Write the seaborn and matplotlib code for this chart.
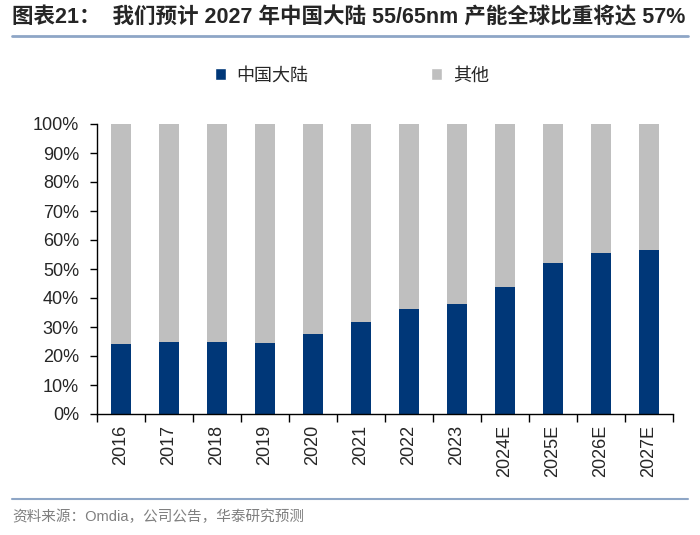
import matplotlib
matplotlib.use("Agg")
import pandas as pd
import seaborn as sns
from matplotlib import pyplot as plt
from matplotlib.patches import Patch
from matplotlib.lines import Line2D
from matplotlib.ticker import FuncFormatter, MultipleLocator, FixedLocator

# data (share of global 55/65nm capacity, %)
years = ['2016', '2017', '2018', '2019', '2020', '2021', '2022', '2023',
         '2024E', '2025E', '2026E', '2027E']
china = [24.0, 24.9, 24.7, 24.5, 27.7, 31.7, 36.3, 37.8, 43.8, 52.0, 55.4, 56.6]
other = [100 - v for v in china]

BLUE = '#003778'
GREY = '#BFBFBF'
LINE = '#8EA6C6'

sns.set_theme(style='ticks')
plt.rcParams['font.family'] = ['Liberation Sans', 'Noto Sans CJK SC']

df = pd.DataFrame({'year': years, 'china': china, 'other': other})
df['total'] = df['china'] + df['other']

fig = plt.figure(figsize=(7, 5.35), dpi=100)
ax = fig.add_axes([97 / 700, 1 - 414 / 535, 576 / 700, 290 / 535])

# stacked: full bar in grey, China part drawn over it
sns.barplot(data=df, x='year', y='total', color=GREY, width=0.4,
            saturation=1, linewidth=0, ax=ax)
sns.barplot(data=df, x='year', y='china', color=BLUE, width=0.4,
            saturation=1, linewidth=0, ax=ax)

ax.set_ylim(0, 100)
ax.set_xlim(-0.5, len(years) - 0.5)
ax.yaxis.set_major_locator(MultipleLocator(10))
ax.yaxis.set_major_formatter(FuncFormatter(lambda v, p: f'{v:.0f}%'))
ax.set_xlabel('')
ax.set_ylabel('')

for s in ['top', 'right']:
    ax.spines[s].set_visible(False)
for s in ['left', 'bottom']:
    ax.spines[s].set_color('black')
    ax.spines[s].set_linewidth(1)

ax.tick_params(axis='y', direction='out', length=5, width=1, color='black',
               labelsize=13, pad=8)
ax.tick_params(axis='x', which='major', length=0, labelsize=13, pad=8)
ax.xaxis.set_minor_locator(FixedLocator([i - 0.5 for i in range(len(years) + 1)]))
ax.tick_params(axis='x', which='minor', direction='out', length=6, width=1,
               color='black')
plt.setp(ax.get_xticklabels(), rotation=90)

# legend above the plot
handles = [Patch(facecolor=BLUE), Patch(facecolor=GREY)]
fig.legend(handles, ['中国大陆', '其他'], ncol=2, loc='center',
           bbox_to_anchor=(0.503, 1 - 76 / 535), frameon=False,
           handlelength=0.6, handleheight=0.6, handletextpad=0.6,
           columnspacing=6.8, fontsize=13)

# title and footer
fig.text(12 / 700, 1 - 18 / 535,
         '图表21：  我们预计 2027 年中国大陆 55/65nm 产能全球比重将达 57%',
         fontsize=15.5, fontweight='bold', va='center', ha='left')
fig.add_artist(Line2D([12 / 700, 688 / 700], [1 - 36 / 535, 1 - 36 / 535],
                      color=LINE, lw=2, transform=fig.transFigure))
fig.add_artist(Line2D([12 / 700, 688 / 700], [1 - 499 / 535, 1 - 499 / 535],
                      color=LINE, lw=1.5, transform=fig.transFigure))
fig.text(12 / 700, 1 - 517 / 535, '资料来源：Omdia，公司公告，华泰研究预测',
         fontsize=10.5, color='#7F7F7F', va='center', ha='left')

fig.savefig('out.png', dpi=100)
